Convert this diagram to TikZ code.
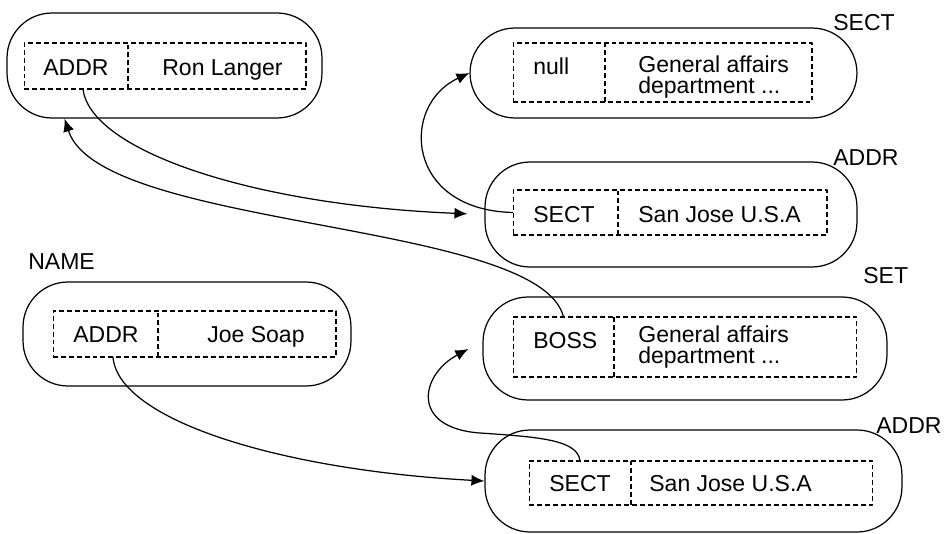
\documentclass[tikz,border=0pt]{standalone}
\usepackage{fontspec}
\setmainfont{Liberation Sans}
\usetikzlibrary{arrows.meta}

\tikzset{
  rec/.style={draw, line width=0.7pt, rounded corners=0.9cm, inner sep=0pt},
  field/.style={draw, line width=0.6pt, dash pattern=on 2.8pt off 1.7pt, inner sep=0pt, outer sep=0pt},
  sepline/.style={line width=0.6pt, dash pattern=on 2.8pt off 1.7pt},
  keycell/.style={inner sep=0pt, outer sep=0pt},
  lbl/.style={anchor=base west, inner sep=0pt, font=\fontsize{13.1}{11.95}\selectfont},
  link/.style={->, line width=0.7pt},
}

\begin{document}
\begin{tikzpicture}[>={Latex[length=2.6mm,width=2.2mm]}, x=0.02cm, y=-0.02cm, line join=round]
  \useasboundingbox (0,0) rectangle (944,534);

  % Record: Ron Langer
  \node[rec, minimum width=6.3cm, minimum height=2.1cm] (ron) at (164.5,65.5) {};
  \node[field, minimum width=5.64cm, minimum height=0.92cm] (ronF) at (165,66) {};
  \node[keycell, minimum width=2.08cm, minimum height=0.92cm] (ronK) at (76,66) {};
  \draw[sepline] (ronK.south east) -- (ronK.north east);
  \node[lbl] (ronKey) at (43,75) {ADDR};
  \node[lbl] (ronVal) at (162,75) {Ron Langer};

  % Record: SECT
  \node[rec, minimum width=7.74cm, minimum height=1.8cm] (sect) at (663.5,73) {};
  \node[field, minimum width=5.98cm, minimum height=1.18cm] (sectF) at (662.5,72.5) {};
  \node[keycell, minimum width=1.84cm, minimum height=1.18cm] (sectK) at (559,72.5) {};
  \draw[sepline] (sectK.south east) -- (sectK.north east);
  \node[lbl] (sectKey) at (533,74) {null};
  \node[lbl, align=left] (sectVal) at (638,93) {General affairs\\department ...};
  \node[lbl] (sectTag) at (833,31) {SECT};

  % Record: ADDR (upper)
  \node[rec, minimum width=7.44cm, minimum height=2.1cm] (addrA) at (671,214.5) {};
  \node[field, minimum width=6.28cm, minimum height=0.9cm] (addrAF) at (670,212.5) {};
  \node[keycell, minimum width=2.1cm, minimum height=0.9cm] (addrAK) at (565.5,212.5) {};
  \draw[sepline] (addrAK.south east) -- (addrAK.north east);
  \node[lbl] (addrAKey) at (533,222) {SECT};
  \node[lbl] (addrAVal) at (638,222) {San Jose U.S.A};
  \node[lbl] (addrATag) at (833,165) {ADDR};

  % Record: SET
  \node[rec, minimum width=8.08cm, minimum height=2.06cm] (boss) at (685,348.5) {};
  \node[field, minimum width=6.88cm, minimum height=1.2cm] (bossF) at (685,347) {};
  \node[keycell, minimum width=2.02cm, minimum height=1.2cm] (bossK) at (563.5,347) {};
  \draw[sepline] (bossK.south east) -- (bossK.north east);
  \node[lbl] (bossKey) at (533,348) {BOSS};
  \node[lbl, align=left] (bossVal) at (638,363) {General affairs\\department ...};
  \node[lbl] (setTag) at (863,283) {SET};

  % Record: ADDR (lower)
  \node[rec, minimum width=8.34cm, minimum height=2.04cm] (addrB) at (693.5,481) {};
  \node[field, minimum width=6.88cm, minimum height=0.88cm] (addrBF) at (701,483) {};
  \node[keycell, minimum width=2.04cm, minimum height=0.88cm] (addrBK) at (580,483) {};
  \draw[sepline] (addrBK.south east) -- (addrBK.north east);
  \node[lbl] (addrBKey) at (549,491) {SECT};
  \node[lbl] (addrBVal) at (649,491) {San Jose U.S.A};
  \node[lbl] (addrBTag) at (876,433) {ADDR};

  % Record: NAME
  \node[rec, minimum width=6.56cm, minimum height=2.08cm] (joe) at (187,334) {};
  \node[field, minimum width=5.66cm, minimum height=0.92cm] (joeF) at (194.5,334) {};
  \node[keycell, minimum width=2.1cm, minimum height=0.92cm] (joeK) at (105.5,334) {};
  \draw[sepline] (joeK.south east) -- (joeK.north east);
  \node[lbl] (joeKey) at (73,342) {ADDR};
  \node[lbl] (joeVal) at (207,342) {Joe Soap};
  \node[lbl] (nameTag) at (28,269) {NAME};

  % Pointers
  \draw[link, shorten >=0.34cm] (ronK.-73) .. controls (90,150) and (250,205) .. (addrA.west);
  \draw[link] (bossK.north) .. controls (540,220) and (100,230) .. (ron.208);
  \draw[link] (addrAK.west) .. controls (405,210) and (400,105) .. (sect.west);
  \draw[link, shorten >=0.32cm] (addrBK.north) .. controls (578,440) and (540,437) .. (480,433)
    .. controls (410,428) and (420,375) .. (boss.178);
  \draw[link] (joeK.-72) .. controls (118,420) and (280,470) .. (addrB.west);
\end{tikzpicture}
\end{document}
